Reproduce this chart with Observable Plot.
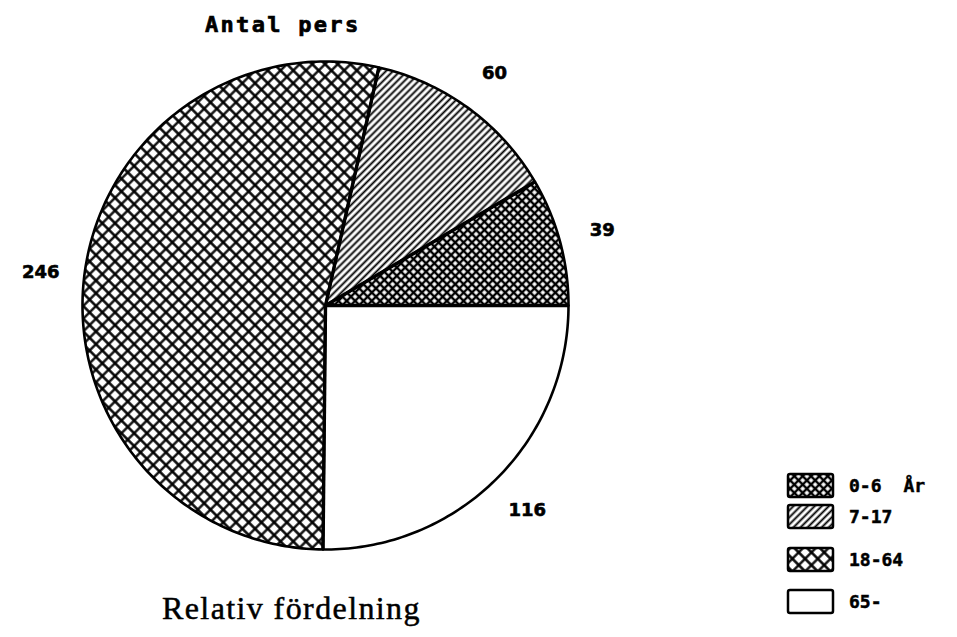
<!DOCTYPE html>
<html><head><meta charset="utf-8">
<script src="https://cdn.jsdelivr.net/npm/d3@7"></script>
<script src="https://cdn.jsdelivr.net/npm/@observablehq/plot@0.6"></script>
<style>
body{margin:0;background:#fff}
#wrap{position:relative;width:957px;height:637px;overflow:hidden}
#wrap svg.plot{position:absolute;left:0;top:0}
.t{position:absolute;white-space:nowrap;color:#000}
.title{left:205px;top:12px;font:bold 22px "DejaVu Sans Mono";letter-spacing:2.3px;-webkit-text-stroke:0.7px #000}
.cap{left:162px;top:590px;font:32px "Liberation Serif";letter-spacing:1.4px;-webkit-text-stroke:0.5px #000}
.leg{position:absolute;left:786px;font:bold 18px "DejaVu Sans Mono";display:flex;align-items:center;-webkit-text-stroke:0.5px #000}
.leg svg{margin-right:14px}
</style>
</head><body><div id="wrap"></div>
<script>
const categories = ["0-6", "7-17", "18-64", "65-"];
const values = [39, 60, 246, 116];
const valueLabels = ["39", "60", "246", "116"];
const titleText = "Antal pers";
const captionText = "Relativ fördelning";
const unitText = "År";

const total = d3.sum(values);
let cum = 0;
const slices = values.map((v, i) => {
  const a0 = 2 * Math.PI * cum / total;
  cum += v;
  const a1 = 2 * Math.PI * cum / total;
  return {cat: categories[i], label: valueLabels[i], a0, a1, mid: (a0 + a1) / 2};
});
const polys = slices.map(s => {
  const pts = [{x: 0, y: 0}];
  const n = Math.max(4, Math.ceil((s.a1 - s.a0) / (Math.PI / 180)));
  for (let k = 0; k <= n; k++) {
    const a = s.a0 + (s.a1 - s.a0) * k / n;
    pts.push({x: Math.cos(a), y: Math.sin(a)});
  }
  pts.push({x: 0, y: 0});
  return pts;
});
const radii = slices.map(s => ({x1: 0, y1: 0, x2: Math.cos(s.a0), y2: Math.sin(s.a0)}));
const labels = slices.map(s => ({x: 1.18 * Math.cos(s.mid), y: 1.18 * Math.sin(s.mid), label: s.label}));

const marks = [];
polys.forEach((p, i) => {
  marks.push(Plot.line(p, {x: "x", y: "y", fill: `url(#pat${i})`, stroke: "black", strokeWidth: 2.6, strokeLinejoin: "round"}));
});
marks.push(Plot.link(radii, {x1: "x1", y1: "y1", x2: "x2", y2: "y2", stroke: "black", strokeWidth: 3.4}));
marks.push(Plot.text(labels, {x: "x", y: "y", text: "label", fontSize: 18, fontWeight: "bold", fontFamily: "DejaVu Sans", fill: "black", stroke: "black", strokeWidth: 0.6}));

const chart = Plot.plot({
  width: 957, height: 637,
  margin: 0,
  x: {domain: [-1, 1], range: [82, 568], axis: null},
  y: {domain: [-1, 1], range: [549, 61], axis: null},
  marks
});
chart.classList.add("plot");

const defs = `
<defs>
<pattern id="pat0" width="5.9" height="5.9" patternUnits="userSpaceOnUse" patternTransform="rotate(45)">
 <rect width="5.9" height="5.9" fill="white"/>
 <path d="M0 2.95H5.9M2.95 0V5.9" stroke="black" stroke-width="2.4"/>
</pattern>
<pattern id="pat1" width="5" height="5" patternUnits="userSpaceOnUse" patternTransform="rotate(45)">
 <rect width="5" height="5" fill="white"/>
 <path d="M2.5 0V5" stroke="black" stroke-width="1.9"/>
</pattern>
<pattern id="pat2" width="9" height="9" patternUnits="userSpaceOnUse" patternTransform="rotate(45)">
 <rect width="9" height="9" fill="white"/>
 <path d="M0 4.5H9M4.5 0V9" stroke="black" stroke-width="2.3"/>
</pattern>
<pattern id="pat3" width="10" height="10" patternUnits="userSpaceOnUse">
 <rect width="10" height="10" fill="white"/>
</pattern>
</defs>`;
chart.insertAdjacentHTML("afterbegin", defs);

const wrap = document.getElementById("wrap");
wrap.appendChild(chart);

const t = document.createElement("div");
t.className = "t title"; t.textContent = titleText; wrap.appendChild(t);
const c = document.createElement("div");
c.className = "t cap"; c.textContent = captionText; wrap.appendChild(c);

const legTops = [472, 503, 546, 588];
categories.forEach((cat, i) => {
  const row = document.createElement("div");
  row.className = "leg";
  row.style.top = legTops[i] + "px";
  row.innerHTML = `<svg width="49" height="27"><rect x="2" y="2" width="45" height="23" rx="2" fill="url(#pat${i})" stroke="black" stroke-width="2.5"/></svg><span>${cat}</span>` +
    (i === 0 ? `<span style="margin-left:22px">${unitText}</span>` : "");
  wrap.appendChild(row);
});
</script>
</body></html>
